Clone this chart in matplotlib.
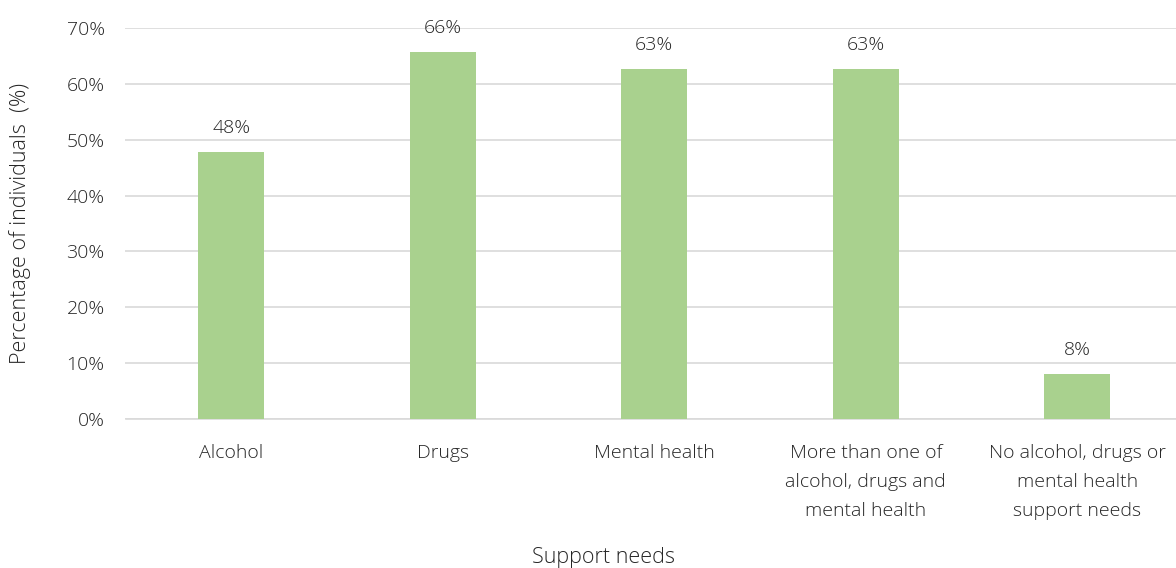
import matplotlib.pyplot as plt

categories = ["Alcohol", "Drugs", "Mental health",
              "More than one of\nalcohol, drugs and\nmental health",
              "No alcohol, drugs or\nmental health\nsupport needs"]
values = [47.8, 65.7, 62.7, 62.7, 8.1]
yticks = [0, 10, 20, 30, 40, 50, 60, 70]

plt.rcParams['font.family'] = ['Open Sans', 'DejaVu Sans']
plt.rcParams['font.weight'] = 'light'

fig = plt.figure(figsize=(11.76, 5.68), dpi=100)
ax = fig.add_axes([125.5 / 1176, 1 - 419 / 568, 1057.5 / 1176, 391 / 568])

x = range(len(categories))
bars = ax.bar(x, values, width=0.31, color="#A9D18E", zorder=3)
for b, v in zip(bars, values):
    ax.text(b.get_x() + b.get_width() / 2, v + 4.3, f"{v:.0f}%",
            ha="center", va="center", fontsize=14, color="#262626")

ax.set_xlim(-0.5, len(categories) - 0.5)
ax.set_ylim(0, 70)
ax.set_yticks(yticks)
ax.set_yticklabels([f"{t}%" for t in yticks])
ax.set_xticks(list(x))
ax.set_xticklabels(categories, linespacing=1.78)
ax.tick_params(axis="both", length=0, labelsize=14, labelcolor="#262626")
ax.tick_params(axis="x", pad=18)
ax.tick_params(axis="y", pad=15)
ax.grid(axis="y", color="#D9D9D9", linewidth=1.2, zorder=0)
for s in ["top", "right", "left"]:
    ax.spines[s].set_visible(False)
ax.spines["bottom"].set_color("#D9D9D9")
ax.spines["bottom"].set_linewidth(1.2)

ax.set_ylabel("Percentage of individuals  (%)", fontsize=15.5, color="#262626",
              fontweight="light")
ax.set_xlabel("Support needs", fontsize=15.5, color="#262626", fontweight="light")
ax.yaxis.label.set_va("center")
ax.xaxis.label.set_va("center")
ax.yaxis.set_label_coords(-(125.5 - 20) / 1057.5, 0.5)
ax.xaxis.set_label_coords((604 - 125.5) / 1057.5, -(557 - 419) / 391)

fig.savefig("out.png", dpi=100)
